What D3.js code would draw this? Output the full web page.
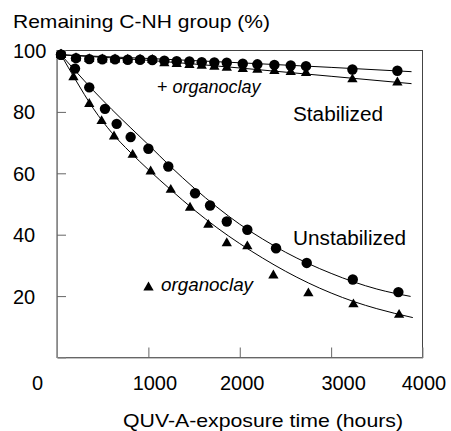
<!DOCTYPE html>
<html><head><meta charset="utf-8">
<script src="https://cdn.jsdelivr.net/npm/d3@7"></script>
<style>
html,body{margin:0;padding:0;background:#fff;}
text{font-family:"Liberation Sans",Arial,sans-serif;fill:#000;}
</style></head>
<body>
<svg id="chart" width="451" height="431"></svg>
<script>
// ---- data ----
const xTicks = [0, 1000, 2000, 3000, 4000];
const yTicks = [20, 40, 60, 80, 100];

// Stabilized, circles (no organoclay)
const stabCircleHours = [44,208,353,496,635,774,909,1043,1175,1310,1449,1584,1722,1858,2033,2193,2379,2558,2725,3233,3725];
const stabCircleValues = [98.6,97.5,97.2,97.1,97.1,97.0,97.0,96.9,96.7,96.5,96.4,96.2,96.1,96.0,95.7,95.5,95.3,95.1,94.9,93.8,93.4];
// Stabilized, triangles (+ organoclay)
const stabTriHours = [44,208,353,496,635,774,909,1043,1175,1310,1449,1584,1722,1858,2033,2193,2379,2558,2725,3233,3725];
const stabTriValues = [98.6,97.5,97.2,97.1,97.1,97.0,97.0,96.9,95.8,95.6,95.3,95.0,94.7,94.4,94.0,93.7,93.3,93.0,92.7,90.6,89.6];

// Unstabilized, circles
const unstabCircleHours = [44,197,353,525,653,806,1000,1218,1511,1675,1858,2083,2397,2733,3237,3736];
const unstabCircleValues = [98.6,94.1,88.0,81.0,76.1,71.8,68.0,62.2,53.5,49.5,44.3,41.6,35.6,30.8,25.4,21.3];
// Unstabilized, triangles (+ organoclay)
const unstabTriHours = [44,180,353,488,624,828,1025,1245,1456,1656,1858,2083,2368,2751,3244,3744];
const unstabTriValues = [98.6,91.3,82.6,77.0,72.0,66.0,60.6,54.6,48.8,43.2,37.2,36.2,26.7,20.9,17.3,13.9];

// fitted trend curves
const fitStabCircleHours = [44, 1000, 2000, 3000, 3880];
const fitStabCircleValues = [98.6, 97.4, 96.0, 94.5, 93.1];
const fitStabTriHours = [44, 1000, 2000, 3000, 3880];
const fitStabTriValues = [98.6, 96.8, 94.3, 91.6, 89.2];
const fitUnstabCircleHours = [44,200,400,600,800,1000,1250,1500,1750,2000,2250,2500,2750,3000,3250,3500,3870];
const fitUnstabCircleValues = [98.6,93.4,86.9,80.8,75.0,69.3,62.0,55.2,49.0,43.4,38.6,34.3,30.6,27.4,24.6,22.3,19.9];
const fitUnstabTriHours = [44,200,400,600,800,1000,1250,1500,1750,2000,2250,2500,2750,3000,3250,3500,3894];
const fitUnstabTriValues = [98.6,90.6,81.0,73.2,66.9,61.2,54.5,48.1,42.3,37.1,32.4,28.1,24.3,21.0,18.2,15.9,13.0];

// ---- drawing ----
const svg = d3.select("#chart");
const x = d3.scaleLinear().domain([0, 4000]).range([57, 422.5]);
const y = d3.scaleLinear().domain([0, 100]).range([357.5, 50.5]);

const zip = (h, v) => h.map((d, i) => ({h: d, v: v[i]}));

// frame (top/right)
svg.append("rect")
  .attr("x", x(0)).attr("y", y(100))
  .attr("width", x(4000) - x(0)).attr("height", y(0) - y(100))
  .attr("fill", "none").attr("stroke", "#444").attr("stroke-width", 1);

// left axis
const yAxis = d3.axisLeft(y).tickValues(yTicks).tickSize(-9).tickPadding(0);
const gy = svg.append("g").attr("transform", `translate(${x(0)},0)`).call(yAxis);
gy.select(".domain").attr("stroke", "#888");
gy.selectAll(".tick line").attr("stroke", "#666");
gy.selectAll(".tick text")
  .attr("x", 13 - x(0)).attr("text-anchor", "start")
  .attr("font-size", 20).attr("font-family", "Liberation Sans, Arial, sans-serif")
  .attr("fill", "#000").attr("dy", "0.35em");

// bottom axis
const labelShift = [-20, 6, 2, 12, 1];
const xAxis = d3.axisBottom(x).tickValues(xTicks).tickSize(-10).tickPadding(0)
  .tickFormat(d3.format("d"));
const gx = svg.append("g").attr("transform", `translate(0,${y(0)})`).call(xAxis);
gx.select(".domain").attr("stroke", "#888");
gx.selectAll(".tick line").attr("stroke", "#666")
  .attr("opacity", d => (d === 0 || d === 4000) ? 0 : 1);
gx.selectAll(".tick text")
  .attr("y", 0).attr("dy", 32)
  .attr("dx", (d, i) => labelShift[i])
  .attr("font-size", 20).attr("font-family", "Liberation Sans, Arial, sans-serif")
  .attr("fill", "#000");

// fit curves
const line = d3.line().x(d => x(d.h)).y(d => y(d.v)).curve(d3.curveMonotoneX);
[[fitStabCircleHours, fitStabCircleValues],
 [fitStabTriHours, fitStabTriValues],
 [fitUnstabCircleHours, fitUnstabCircleValues],
 [fitUnstabTriHours, fitUnstabTriValues]].forEach(([h, v]) => {
  svg.append("path").datum(zip(h, v)).attr("d", line)
    .attr("fill", "none").attr("stroke", "#000").attr("stroke-width", 1);
});

// markers
const tri = d3.symbol().type(d3.symbolTriangle).size(46)();
const circ = d3.symbol().type(d3.symbolCircle).size(85)();
function drawMarkers(h, v, path) {
  svg.append("g").selectAll("path").data(zip(h, v)).join("path")
    .attr("d", path)
    .attr("transform", d => `translate(${x(d.h)},${y(d.v)})`)
    .attr("fill", "#000");
}
drawMarkers(stabTriHours, stabTriValues, tri);
drawMarkers(unstabTriHours, unstabTriValues, tri);
drawMarkers(stabCircleHours, stabCircleValues, circ);
drawMarkers(unstabCircleHours, unstabCircleValues, circ);

// texts
function txt(s, tx, ty, len, size, italic) {
  const t = svg.append("text").attr("x", tx).attr("y", ty)
    .attr("font-size", size);
  if (italic) t.attr("font-style", "italic");
  t.text(s);
  if (len) t.attr("textLength", len).attr("lengthAdjust", "spacingAndGlyphs");
  return t;
}
txt("Remaining C-NH group (%)", 13, 28, 257, 19);
txt("QUV-A-exposure time (hours)", 123, 427, 280, 19);
txt("Stabilized", 293, 121, 90, 20);
txt("Unstabilized", 293, 245, 113, 20);
const p = svg.append("text").attr("x", 157).attr("y", 93).attr("font-size", 18);
p.append("tspan").text("+ ");
p.append("tspan").attr("font-style", "italic").text("organoclay");
svg.append("path").attr("d", tri)
  .attr("transform", "translate(148.5,287.5)").attr("fill", "#000");
txt("organoclay", 161, 291, 92, 18, true);
</script>
</body></html>
